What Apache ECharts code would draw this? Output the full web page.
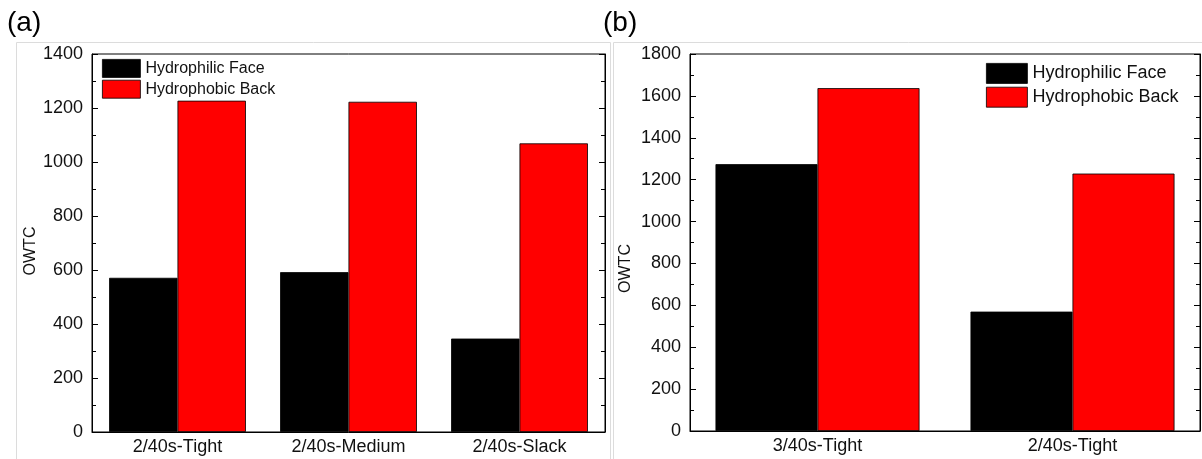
<!DOCTYPE html>
<html lang="en">

<head>
  <meta charset="UTF-8">
  <title>OWTC bar charts</title>
  <script src="https://cdn.jsdelivr.net/npm/echarts@6/dist/echarts.min.js"></script>
  <style>
    html, body { margin: 0; padding: 0; background: #fff; }
  </style>
</head>

<body>
  <div id="main" style="width: 1202px;height:459px;"></div>
  <script>
    // data
    var seriesNames = ['Hydrophilic Face', 'Hydrophobic Back'];

    // panel (a)
    var catsA = ['2/40s-Tight', '2/40s-Medium', '2/40s-Slack'];
    var faceA = [571, 592, 346];
    var backA = [1227, 1223, 1069];

    // panel (b)
    var catsB = ['3/40s-Tight', '2/40s-Tight'];
    var faceB = [1274, 570];
    var backB = [1637, 1229];

    var myChart = echarts.init(document.getElementById('main'));

    var font = 'Arial, "Liberation Sans", sans-serif';
    var ink = '#111';

    // value axis with inside ticks (left one labelled, right one bare)
    function valueAxis(grid, max, show) {
      return {
        type: 'value',
        gridIndex: grid,
        position: show ? 'left' : 'right',
        min: 0,
        max: max,
        interval: 200,
        name: show ? 'OWTC' : '',
        nameLocation: 'middle',
        nameGap: grid === 0 ? 53 : 56,
        // right padding nudges the rotated name down, as in the figure
        nameTextStyle: {
          color: ink, fontSize: 16, fontFamily: font,
          padding: grid === 0 ? [0, 16, 0, 0] : [0, 52, 0, 0]
        },
        axisLine: { show: true, lineStyle: { color: '#000', width: 1 } },
        axisTick: { show: true, inside: true, length: 6, lineStyle: { color: '#000' } },
        minorTick: { show: true, splitNumber: 2, length: 4, lineStyle: { color: '#000' } },
        axisLabel: {
          show: show, margin: 9, color: ink, fontSize: 18, fontFamily: font,
          formatter: function (v) { return String(v); }
        },
        splitLine: { show: false }
      };
    }

    function catAxis(grid, cats) {
      return {
        type: 'category',
        gridIndex: grid,
        data: cats,
        axisLine: { lineStyle: { color: '#000', width: 1 } },
        axisTick: { show: false },
        axisLabel: { margin: 6, color: ink, fontSize: 18, fontFamily: font },
        splitLine: { show: false }
      };
    }

    function bars(name, grid, yIdx, data, color) {
      return {
        name: name,
        type: 'bar',
        xAxisIndex: grid,
        yAxisIndex: yIdx,
        data: data,
        barGap: '0%',
        barCategoryGap: '20%',
        itemStyle: { color: color, borderColor: '#000', borderWidth: 0.8 }
      };
    }

    function legendAt(left, top, w, h, gap, size) {
      return {
        data: seriesNames,
        orient: 'vertical',
        left: left,
        top: top,
        padding: 0,
        itemWidth: w,
        itemHeight: h,
        itemGap: gap,
        icon: 'rect',
        itemStyle: { borderColor: '#000', borderWidth: 0.8 },
        textStyle: { color: ink, fontSize: size, fontFamily: font }
      };
    }

    option = {
      animation: false,
      backgroundColor: '#fff',
      grid: [
        { left: 92, top: 54, right: 597, bottom: 27, show: true, borderColor: '#000', borderWidth: 1 },
        { left: 690, top: 54, right: 2, bottom: 28, show: true, borderColor: '#000', borderWidth: 1 }
      ],
      legend: [
        legendAt(102, 59, 38, 18, 2, 16),
        legendAt(986, 63, 41, 20, 3, 18)
      ],
      xAxis: [catAxis(0, catsA), catAxis(1, catsB)],
      yAxis: [
        valueAxis(0, 1400, true),
        valueAxis(1, 1800, true),
        valueAxis(0, 1400, false),
        valueAxis(1, 1800, false)
      ],
      series: [
        bars(seriesNames[0], 0, 0, faceA, '#000'),
        bars(seriesNames[1], 0, 0, backA, '#ff0000'),
        bars(seriesNames[0], 1, 1, faceB, '#000'),
        bars(seriesNames[1], 1, 1, backB, '#ff0000')
      ],
      graphic: [
        // faint panel frames from the scanned figure
        { type: 'rect', z: -1, shape: { x: 16.5, y: 42.5, width: 594, height: 430 }, style: { fill: null, stroke: '#dcdcdc', lineWidth: 1 } },
        { type: 'rect', z: -1, shape: { x: 613.5, y: 42.5, width: 600, height: 430 }, style: { fill: null, stroke: '#dcdcdc', lineWidth: 1 } },
        // panel labels
        { type: 'text', left: 7, top: 9, style: { text: '(a)', fill: '#000', font: '28px ' + font } },
        { type: 'text', left: 603, top: 9, style: { text: '(b)', fill: '#000', font: '28px ' + font } }
      ]
    };

    myChart.setOption(option);
  </script>
</body>

</html>
